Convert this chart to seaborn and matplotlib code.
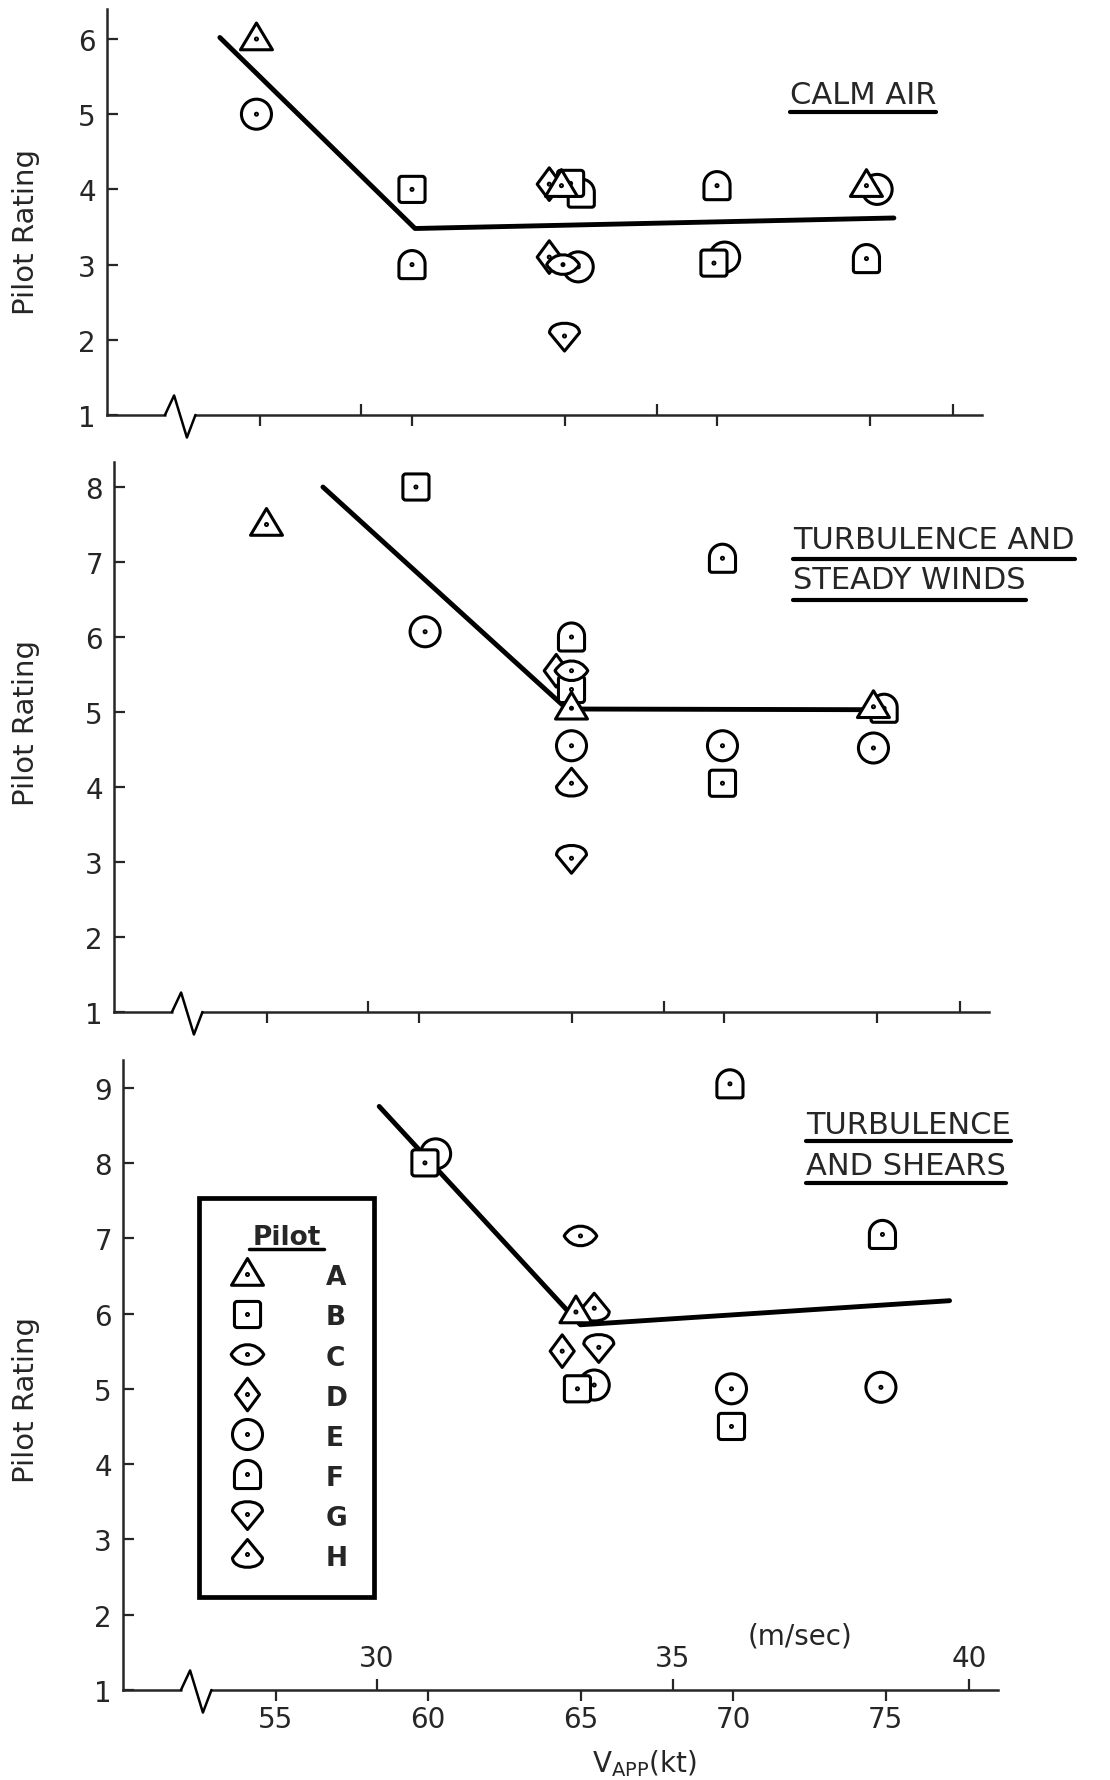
import numpy as np
import pandas as pd
import matplotlib
matplotlib.use("Agg")
import matplotlib.pyplot as plt
from matplotlib.path import Path
from matplotlib.lines import Line2D
import seaborn as sns

# ---------------- data ----------------
pilots = ["A", "B", "C", "D", "E", "F", "G", "H"]

kt_ticks = [55, 60, 65, 70, 75]
ms_ticks = [30, 35, 40]

# Calm air (rows listed back-to-front so later markers sit on top)
calm_pilot = ["E", "A", "B", "F", "D", "F", "B", "A", "D", "E", "C", "G",
              "F", "E", "B", "E", "A", "F"]
calm_kt = [54.9, 54.9, 60.0, 60.0, 64.5, 65.55, 65.2, 64.9, 64.5, 65.45, 64.95,
           65.0, 70.0, 70.25, 69.9, 75.25, 74.9, 74.9]
calm_rating = [5.0, 6.0, 4.0, 3.0, 4.07, 3.95, 4.08, 4.05, 3.1, 2.97, 3.0,
               2.05, 4.05, 3.1, 3.02, 4.0, 4.05, 3.08]
calm_fit_kt = [53.7, 60.1, 75.8]
calm_fit_rating = [6.02, 3.48, 3.62]

# Turbulence and steady winds
wind_pilot = ["A", "B", "E", "F", "D", "B", "C", "A", "E", "H", "G",
              "F", "E", "B", "F", "A", "E"]
wind_kt = [55.0, 59.9, 60.2, 65.0, 64.5, 65.0, 65.0, 65.0, 65.0, 65.0, 65.0,
           69.95, 69.95, 69.95, 75.25, 74.9, 74.9]
wind_rating = [7.5, 8.0, 6.07, 6.0, 5.55, 5.3, 5.55, 5.05, 4.55, 4.05, 3.05,
               7.05, 4.55, 4.05, 5.05, 5.07, 4.52]
wind_fit_kt = [56.85, 64.85, 75.4]
wind_fit_rating = [8.0, 5.04, 5.03]

# Turbulence and shears
shear_pilot = ["E", "B", "F", "C", "F", "H", "A", "D", "G", "E", "B",
               "E", "B", "E"]
shear_kt = [60.25, 59.9, 69.9, 65.0, 74.9, 65.45, 64.85, 64.4, 65.6, 65.45, 64.9,
            69.95, 69.95, 74.85]
shear_rating = [8.12, 8.0, 9.05, 7.03, 7.05, 6.07, 6.02, 5.5, 5.55, 5.05, 5.0,
                5.0, 4.5, 5.02]
shear_fit_kt = [58.4, 65.0, 77.1]
shear_fit_rating = [8.75, 5.85, 6.17]


# ---------------- pilot symbols ----------------
M, L, C3, C4, CL = Path.MOVETO, Path.LINETO, Path.CURVE3, Path.CURVE4, Path.CLOSEPOLY


def symbol(verts, codes):
    """Outline + centre dot; a lone guard point keeps every symbol on one scale."""
    guard = Path([(1.0, 1.0)], [M])
    outline = Path(verts, codes)
    dot = Path.circle((0, 0), 0.06)
    return Path.make_compound_path(guard, outline, dot)


def rounded_box(s=0.8, r=0.17):
    v = [(-s + r, -s), (s - r, -s), (s, -s), (s, -s + r), (s, s - r), (s, s), (s - r, s),
         (-s + r, s), (-s, s), (-s, s - r), (-s, -s + r), (-s, -s), (-s + r, -s), (0, 0)]
    c = [M, L, C3, C3, L, C3, C3, L, C3, C3, L, C3, C3, CL]
    return v, c


def arch(w=0.8, b=-0.86, mid=0.06, r=0.15):
    k = 0.5523 * w
    v = [(-w + r, b), (w - r, b), (w, b), (w, b + r), (w, mid),
         (w, mid + k), (k, mid + w), (0, mid + w),
         (-k, mid + w), (-w, mid + k), (-w, mid),
         (-w, b + r), (-w, b), (-w + r, b), (0, 0)]
    c = [M, L, C3, C3, L, C4, C4, C4, C4, C4, C4, L, C3, C3, CL]
    return v, c


def shield(flip=1.0):
    v = [(-0.92, 0.2), (-0.9, 0.98), (0.9, 0.98), (0.92, 0.2), (0.0, -0.92), (0, 0)]
    v = [(x, flip * y) for x, y in v]
    c = [M, C4, C4, C4, L, CL]
    return v, c


def eye(h=0.8):
    v = [(-1, 0), (-0.55, h), (0.55, h), (1, 0), (0.55, -h), (-0.55, -h), (-1, 0), (0, 0)]
    c = [M, C4, C4, C4, C4, C4, C4, CL]
    return v, c


circle_outline = Path.circle((0, 0), 0.92)

marker_map = {
    "A": symbol([(0, 0.98), (0.98, -0.66), (-0.98, -0.66), (0, 0)], [M, L, L, CL]),
    "B": symbol(*rounded_box()),
    "C": symbol(*eye()),
    "D": symbol([(0, 1.0), (0.74, 0), (0, -1.0), (-0.74, 0), (0, 0)], [M, L, L, L, CL]),
    "E": symbol(circle_outline.vertices, circle_outline.codes),
    "F": symbol(*arch()),
    "G": symbol(*shield(1.0)),
    "H": symbol(*shield(-1.0)),
}

MARKER_PT = 23.5
EDGE_LW = 2.2


def kt_to_ms(v):
    return np.asarray(v, dtype=float) / 1.9438


def ms_to_kt(v):
    return np.asarray(v, dtype=float) * 1.9438


# ---------------- figure ----------------
sns.set_style("ticks")
plt.rcParams["font.family"] = ["DejaVu Sans"]

W, H = 1110, 1781
fig = plt.figure(figsize=(W / 100, H / 100), dpi=100)

XMIN, XMAX = 50.0, 78.7
PX_PER_KT = 30.5
AX_W = (XMAX - XMIN) * PX_PER_KT


def make_axes(left_px, bottom_px, ytop, px_per_unit=75.2):
    h = (ytop - 1) * px_per_unit
    return fig.add_axes([left_px / W, 1 - bottom_px / H, AX_W / W, h / H])


ax1 = make_axes(107, 416, 6.4)
ax2 = make_axes(114, 1013, 8.33, 75.0)
ax3 = make_axes(123, 1691, 9.37, 75.3)

panels = [
    (ax1, calm_pilot, calm_kt, calm_rating, calm_fit_kt, calm_fit_rating, 6.4, 6, (-0.077, 0.454)),
    (ax2, wind_pilot, wind_kt, wind_rating, wind_fit_kt, wind_fit_rating, 8.33, 8, (-0.085, 0.527)),
    (ax3, shear_pilot, shear_kt, shear_rating, shear_fit_kt, shear_fit_rating, 9.37, 9, (-0.095, 0.462)),
]

for i, (ax, pil, kt, rt, fkt, frt, ytop, ymax, ylab) in enumerate(panels):
    last = i == len(panels) - 1
    df = pd.DataFrame({"pilot": pil, "kt": kt, "rating": rt})

    sns.lineplot(x=fkt, y=frt, sort=False, estimator=None, color="black",
                 lw=3.5, ax=ax, zorder=2)
    sns.scatterplot(data=df, x="kt", y="rating", style="pilot", markers=marker_map,
                    s=MARKER_PT ** 2, color="white", edgecolor="black",
                    linewidth=EDGE_LW, legend=False, ax=ax, zorder=3, clip_on=False)

    ax.set_xlim(XMIN, XMAX)
    ax.set_ylim(1, ytop)
    ax.set_xticks(kt_ticks)
    ax.set_yticks(list(range(1, ymax + 1)))
    ax.set_xlabel("")
    ax.set_ylabel("Pilot Rating", fontsize=21)
    ax.yaxis.set_label_coords(*ylab)
    ax.tick_params(axis="x", direction="out", length=8, width=1.6, pad=3,
                   labelsize=20, labelbottom=last)
    ax.tick_params(axis="y", direction="in", length=8, width=1.6, pad=8, labelsize=20)
    sns.despine(ax=ax)
    for sp in ("left", "bottom"):
        ax.spines[sp].set_linewidth(1.8)

    # metric speed scale sharing the bottom axis line
    sec = ax.secondary_xaxis(0.0, functions=(kt_to_ms, ms_to_kt))
    sec.set_alignment("top")
    sec.set_xticks(ms_ticks)
    sec.tick_params(direction="out", length=8, width=1.6, pad=5, labelsize=20,
                    labeltop=last)
    sec.spines["top"].set_visible(False)

    # axis break
    ax.plot([51.95, 52.85], [1, 1], color="white", lw=5, clip_on=False, zorder=4,
             solid_capstyle="butt")
    ax.plot([51.9, 52.2, 52.62, 52.9], [1, 1.26, 0.7, 1], color="black", lw=1.8,
            clip_on=False, zorder=5)

ax3.text(72.2, 1.73, "(m/sec)", fontsize=20, ha="center", va="center")
fig.text(644 / W, 1 - 1764 / H, r"V$_{\mathregular{APP}}$(kt)", fontsize=20,
         ha="center", va="center")

# ---------------- condition titles ----------------
title_specs = [
    ("CALM AIR", 790, 104, 9),
    ("TURBULENCE AND", 793, 549, 11),
    ("STEADY WINDS", 793, 589, 12),
    ("TURBULENCE", 806, 1134, 8),
    ("AND SHEARS", 806, 1175, 9),
]
title_texts = []
for s, x, y, off in title_specs:
    t = fig.text(x / W, 1 - y / H, s, fontsize=22, ha="left", va="baseline")
    title_texts.append((t, y, off))

# ---------------- legend ----------------
handles = [Line2D([], [], ls="none", marker=marker_map[p], markersize=MARKER_PT,
                  markerfacecolor="white", markeredgecolor="black",
                  markeredgewidth=EDGE_LW) for p in pilots]
leg = ax3.legend(handles, pilots, title="Pilot", loc="upper left",
                 bbox_to_anchor=(199 / W, 1 - 1199 / H), bbox_transform=fig.transFigure,
                 borderaxespad=0, frameon=True, fancybox=False, framealpha=1,
                 edgecolor="black", prop={"size": 19, "weight": "bold"},
                 title_fontproperties={"size": 19, "weight": "bold"},
                 handlelength=1.6, handleheight=1.0, handletextpad=2.2,
                 labelspacing=0.5, borderpad=1.0)
leg.get_frame().set_linewidth(3.4)
leg.set_zorder(6)

# ---------------- underlines ----------------
fig.canvas.draw()
renderer = fig.canvas.get_renderer()
for t, y, off in title_texts:
    bb = t.get_window_extent(renderer=renderer)
    yy = (H - y - off) / H
    fig.add_artist(Line2D([bb.x0 / W, bb.x1 / W], [yy, yy], color="black", lw=3,
                          transform=fig.transFigure))

tt = leg.get_title()
bb = tt.get_window_extent(renderer=renderer)
yy = (bb.y0 + 1) / H
fig.add_artist(Line2D([(bb.x0 - 3) / W, (bb.x1 + 3) / W], [yy, yy], color="black",
                      lw=2.5, transform=fig.transFigure, zorder=7))

fig.savefig("out.png", dpi=100, facecolor="white")
